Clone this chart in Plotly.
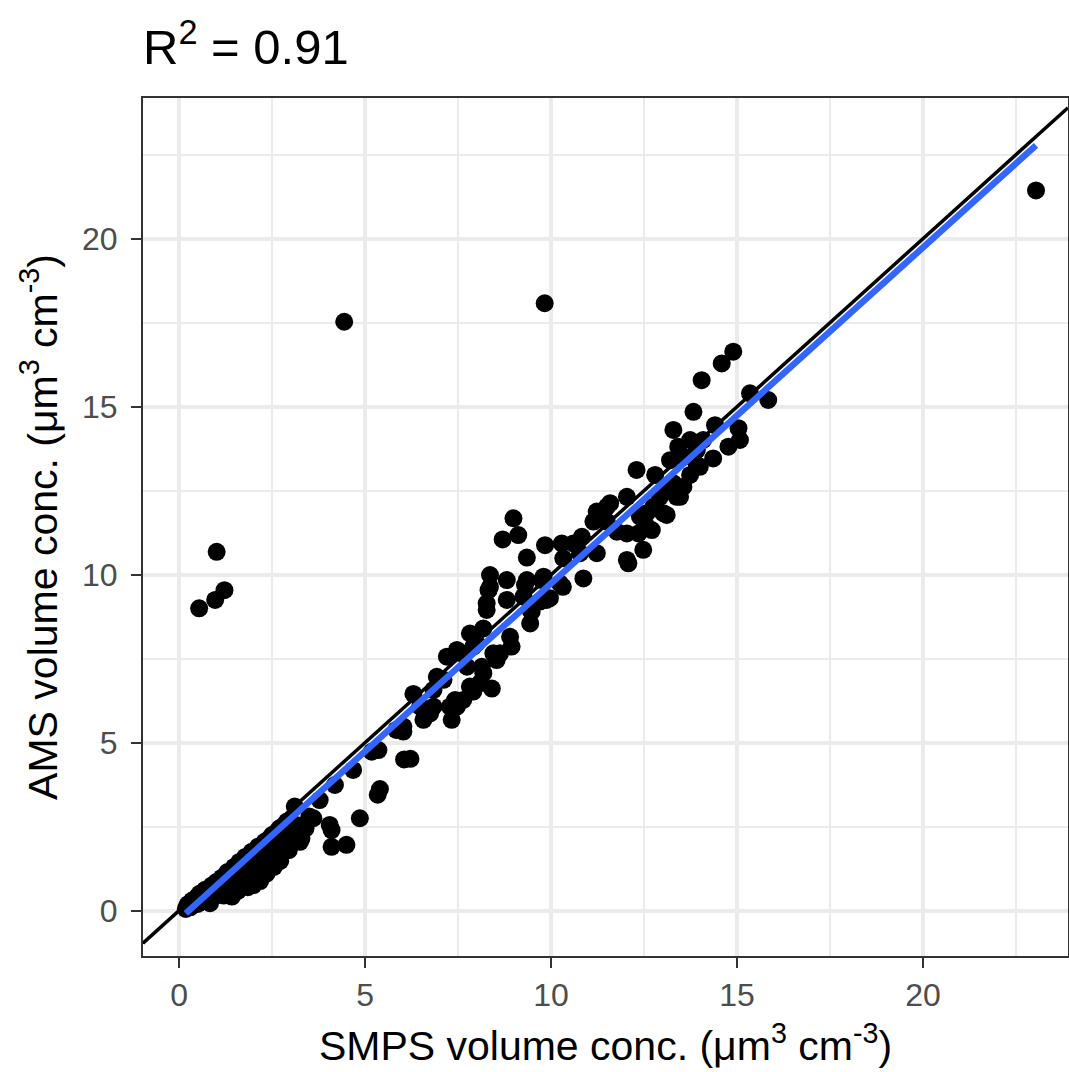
import plotly.graph_objects as go

# ---- data ----
low_x = [0.18,0.22,0.25,0.30,0.35,0.42,0.48,0.50,0.55,0.60,0.65,0.70,0.75,0.80,0.83,0.88,0.92,0.95,1.00,1.05,
         1.10,1.15,1.20,1.25,1.30,1.35,1.40,1.42,1.48,1.50,1.55,1.58,1.62,1.68,1.72,1.78,1.82,1.85,1.90,1.95,
         2.00,2.02,2.08,2.12,2.18,2.20,2.25,2.30,2.35,2.40,2.45,2.50,2.55,2.58,2.62,2.65,2.70,2.72,2.78,2.85,
         2.90,2.95,3.05,3.11,3.15,3.25,3.29,3.40,3.50]
low_y = [0.05,0.15,0.20,0.10,0.30,0.25,0.40,0.20,0.50,0.32,0.45,0.62,0.35,0.55,0.22,0.75,0.40,0.60,0.85,0.50,
         0.70,0.98,0.45,0.80,1.15,0.60,0.95,0.42,1.30,0.75,1.10,0.59,1.45,0.85,1.25,1.60,1.00,0.70,1.40,1.75,
         0.76,1.15,1.55,1.90,0.88,1.30,1.70,2.05,1.10,1.50,1.85,2.25,1.30,1.65,1.81,2.05,2.45,1.48,1.95,2.30,
         2.65,1.80,2.20,3.10,2.55,2.05,2.15,2.45,2.80]

mid_x = [3.61,3.78,4.05,4.10,4.10,4.19,4.50,4.68,4.86,5.18,5.36,5.34,5.40,5.84,6.03,6.05,6.22,6.03,6.30,6.48,
         6.57,6.75,6.84,6.84,6.93,7.11,7.20,7.28,7.33,7.42,7.47,7.47,7.60,7.64,7.74,7.82,7.82,7.91,7.91]
mid_y = [2.75,3.29,2.55,1.90,2.40,3.74,1.96,4.19,2.75,4.73,4.78,3.45,3.62,5.38,5.33,4.50,4.52,5.48,6.45,6.07,
         5.68,5.87,6.07,6.57,6.96,6.87,7.56,6.07,5.68,6.27,6.07,7.76,7.66,6.27,7.26,8.25,6.67,6.52,7.86]

hi_x = [8.00,8.09,8.14,8.18,8.18, 8.27,8.27,8.32,8.36,8.36, 8.41,8.45,8.54,8.63,8.70, 8.81,8.81,8.90,8.94,8.99,
        9.12,9.26,9.30,9.35,9.35, 9.44,9.44,9.48,9.70,9.75, 9.80,9.84,9.88,9.97,10.24, 10.29,10.32,10.33,10.60,10.78,
        10.83,10.87,11.14,11.23,11.23, 11.50,11.50,11.59,11.77,12.04, 12.04,12.04,12.08,12.30,12.35,
        12.39,12.48,12.57,12.57,12.71, 12.75,12.80,12.93,13.02,13.07, 13.11,13.20,13.29,13.29,13.38,
        13.42,13.47,13.56,13.56,13.74, 13.74,13.83,13.92,13.92,14.00, 14.05,14.09,14.36,14.41,14.59,
        14.77,14.90,15.04,15.08,15.35, 15.84]
hi_y = [7.96,6.77,7.26,8.40,7.07, 8.95,9.15,9.54,9.99,9.64, 6.61,7.66,7.46,7.66,11.05, 9.84,9.25,8.15,7.86,11.68,
        11.18,9.35,9.69,10.51,9.84, 8.95,8.55,8.90,9.20,9.84, 9.94,10.88,9.25,9.30,9.74, 10.93,9.64,10.49,10.93,10.64,
        11.13,9.89,11.58,11.88,10.64, 11.58,12.02,12.13,11.28,12.32, 10.44,11.23,10.34,13.12,11.23,
        11.73,10.74,11.43,11.83,11.33, 12.02,12.97,12.32,11.83,12.62, 11.78,13.41,12.72,14.31,12.32,
        13.81,12.32,12.62,13.51,12.97, 14.01,14.85,13.27,13.71,13.21, 15.79,14.01,13.46,14.45,16.29,
        13.81,16.64,14.36,14.01,15.40, 15.20]

out_x = [0.54, 0.97, 1.22, 1.01, 4.44, 9.83, 23.04]
out_y = [9.00, 9.25, 9.54, 10.68, 17.53, 18.08, 21.44]

FIT_SLOPE = 1.0
FIT_INTERCEPT = -0.26
X_RANGE = [-0.97, 23.9]
Y_RANGE = [-1.35, 24.19]
TICKS = [0, 5, 10, 15, 20]

smps = low_x + mid_x + hi_x + out_x
ams = low_y + mid_y + hi_y + out_y
assert len(smps) == len(ams)

FONT = "Liberation Sans, Arial, Helvetica, sans-serif"
W, H = 1069, 1072

fig = go.Figure()
fig.add_trace(go.Scatter(x=smps, y=ams, mode="markers",
                         marker=dict(color="black", size=18, line=dict(width=0)),
                         showlegend=False, hoverinfo="x+y"))
fx = [min(smps), max(smps)]
fig.add_trace(go.Scatter(x=fx, y=[FIT_SLOPE * v + FIT_INTERCEPT for v in fx], mode="lines",
                         line=dict(color="#3366FF", width=6.5), showlegend=False))
fig.add_trace(go.Scatter(x=X_RANGE, y=X_RANGE, mode="lines",
                         line=dict(color="black", width=3.5), showlegend=False))

axis_common = dict(
    automargin=False,
    showline=True, mirror=True, linecolor="#333333", linewidth=2,
    ticks="outside", ticklen=10, tickwidth=2, tickcolor="#333333",
    tickfont=dict(family=FONT, size=32, color="#4D4D4D"),
    showgrid=True, gridcolor="#EBEBEB", gridwidth=3.5,
    zeroline=False, tickmode="array", tickvals=TICKS,
    minor=dict(showgrid=True, gridcolor="#EBEBEB", gridwidth=1.8, dtick=2.5, tick0=0, ticks=""),
)

fig.update_xaxes(range=X_RANGE,
                 title=dict(text="SMPS volume conc. (μm<sup>3</sup> cm<sup>-3</sup>)",
                            font=dict(family=FONT, size=41, color="black"), standoff=19),
                 ticklabelstandoff=0,
                 **axis_common)
fig.update_yaxes(range=Y_RANGE,
                 title=dict(text="AMS volume conc. (μm<sup>3</sup> cm<sup>-3</sup>)",
                            font=dict(family=FONT, size=41, color="black"), standoff=12),
                 ticklabelstandoff=7,
                 **axis_common)

fig.update_layout(
    width=W, height=H,
    margin=dict(l=143, r=1, t=98, b=116, autoexpand=False),
    paper_bgcolor="white", plot_bgcolor="white",
    title=dict(text="R<sup>2</sup> = 0.91", x=0, xref="paper", xanchor="left",
               y=1 - 47 / 1072, yref="container", yanchor="middle",
               font=dict(family=FONT, size=49, color="black")),
    font=dict(family=FONT),
)

post = ("document.body.style.margin='0';document.body.style.padding='0';"
        "document.body.style.overflow='hidden';"
        "var gd=document.getElementById('{plot_id}');"
        "Plotly.relayout(gd,{width:%d,height:%d});" % (W, H))

fig.write_html("out.html", post_script=post,
               config={"responsive": False, "displayModeBar": False})
